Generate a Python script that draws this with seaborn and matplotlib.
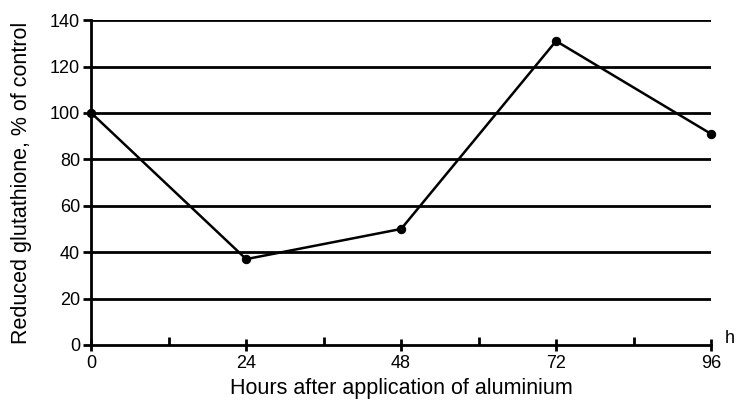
import numpy as np
import pandas as pd
import matplotlib
matplotlib.use("Agg")
import matplotlib.pyplot as plt
import seaborn as sns

# values
hours = [0, 24, 48, 72, 96]
glutathione = [100, 37, 50, 131, 91]
y_ticks = [0, 20, 40, 60, 80, 100, 120, 140]
x_major = [0, 24, 48, 72, 96]
x_minor = [12, 36, 60, 84]

df = pd.DataFrame({"Hours": hours, "GSH": glutathione})

sns.set_style("white")
plt.rcParams["font.family"] = ["Liberation Sans", "DejaVu Sans"]
plt.rcParams["text.color"] = "black"
plt.rcParams["axes.labelcolor"] = "black"
plt.rcParams["xtick.color"] = "black"
plt.rcParams["ytick.color"] = "black"

fig = plt.figure(figsize=(7.36, 4.03), dpi=100)
ax = fig.add_axes([0.124, 0.144, 0.842, 0.806])

# horizontal grid lines
for y in y_ticks[1:]:
    ax.axhline(y, color="black", lw=2, zorder=1)

sns.lineplot(data=df, x="Hours", y="GSH", color="black", lw=1.8,
             marker="o", markersize=6, markeredgecolor="black", ax=ax,
             zorder=3, clip_on=False)

ax.set_xlim(0, 96)
ax.set_ylim(0, 140)
ax.set_yticks(y_ticks)
ax.set_xticks(x_major)
ax.set_xticks(x_minor, minor=True)

for s in ["top", "right"]:
    ax.spines[s].set_visible(False)
for s in ["left", "bottom"]:
    ax.spines[s].set_linewidth(2)
    ax.spines[s].set_color("black")

ax.tick_params(axis="y", which="major", direction="out", length=6, width=2,
               labelsize=13, pad=2, left=True)
ax.tick_params(axis="x", which="major", direction="inout", length=9, width=2,
               labelsize=13, pad=3, bottom=True)
ax.tick_params(axis="x", which="minor", direction="in", length=6, width=2,
               bottom=True)

ax.set_xlabel("Hours after application of aluminium", fontsize=15.5, labelpad=4)
ax.set_ylabel("Reduced glutathione, % of control", fontsize=15.5, labelpad=13)
ax.text(1.022, 0.006, "h", transform=ax.transAxes, fontsize=13,
        ha="left", va="baseline")

fig.savefig("out.png", dpi=100)
